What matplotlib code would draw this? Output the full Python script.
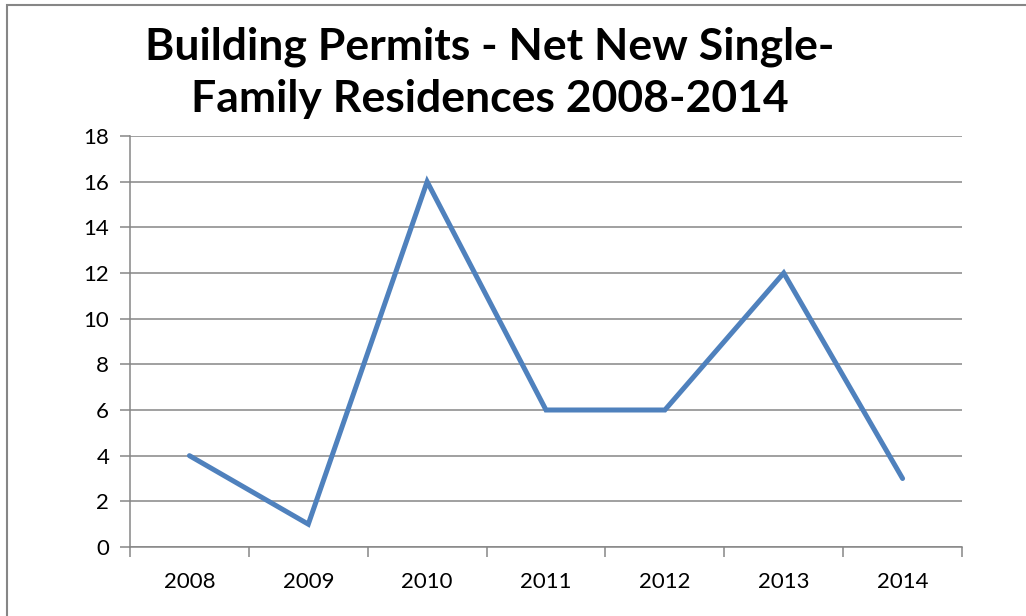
import matplotlib.pyplot as plt
from matplotlib.patches import Rectangle

years = ['2008', '2009', '2010', '2011', '2012', '2013', '2014']
permits = [4, 1, 16, 6, 6, 12, 3]
yticks = [0, 2, 4, 6, 8, 10, 12, 14, 16, 18]

W, H = 1026, 616
grey = '#868686'
plt.rcParams['font.family'] = ['Lato', 'DejaVu Sans']

fig = plt.figure(figsize=(W / 100, H / 100), dpi=100)
ax = fig.add_axes([130 / W, (H - 547) / H, (962 - 130) / W, (547 - 136) / H])

x = list(range(len(years)))
ax.plot(x, permits, color='#4F81BD', lw=3.6, solid_capstyle='round', solid_joinstyle='miter', zorder=3)

ax.set_xlim(-0.5, len(years) - 0.5)
ax.set_ylim(0, 18)
ax.set_yticks(yticks)
ax.set_yticklabels([str(v) for v in yticks], fontsize=16)
ax.yaxis.grid(True, color=grey, lw=1.1)
ax.set_axisbelow(True)

# category boundaries as tick marks, labels in the middle
ax.set_xticks([i - 0.5 for i in range(len(years) + 1)])
ax.set_xticklabels([])
ax.set_xticks(x, minor=True)
ax.set_xticklabels(years, minor=True, fontsize=16)
ax.tick_params(axis='x', which='major', length=7, width=1.1, color=grey, direction='out')
ax.tick_params(axis='x', which='minor', length=0, pad=18)
ax.tick_params(axis='y', length=7, width=1.1, color=grey, direction='out', pad=8)

for s in ['top', 'right']:
    ax.spines[s].set_visible(False)
for s in ['left', 'bottom']:
    ax.spines[s].set_color(grey)
    ax.spines[s].set_linewidth(1.1)

fig.text(490 / W, 1 - 73 / H, 'Building Permits - Net New Single-\nFamily Residences 2008-2014',
         ha='center', va='center', fontsize=32, fontweight='bold', linespacing=1.35)

fig.patches.append(Rectangle((7 / W, -0.1), 1.2, 1 - 5 / H + 0.1, transform=fig.transFigure,
                             fill=False, edgecolor=grey, lw=1.5))

fig.savefig('out.png', dpi=100)
